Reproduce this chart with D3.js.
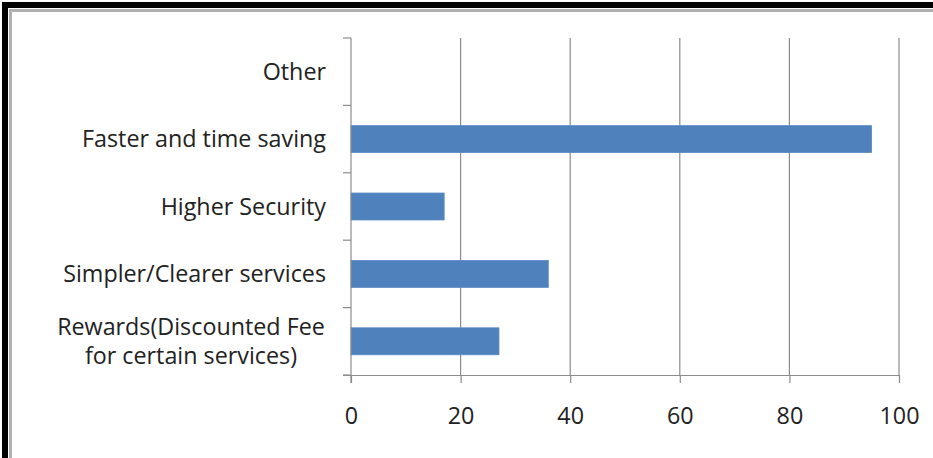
<!DOCTYPE html>
<html><head><meta charset="utf-8">
<script src="https://cdn.jsdelivr.net/npm/d3@7"></script>
<style>body{margin:0;background:#fff}svg{display:block}</style>
</head><body>
<script>
const categories = ["Rewards(Discounted Fee\nfor certain services)", "Simpler/Clearer services", "Higher Security", "Faster and time saving", "Other"];
const values = [27, 36, 17, 95, 0];
const xTicks = [0, 20, 40, 60, 80, 100];

(function () {
const W = 933, H = 458;
const svg = d3.select("body").append("svg").attr("width", W).attr("height", H);
svg.append("rect").attr("width", W).attr("height", H).attr("fill", "#fff");

// frame
svg.append("rect").attr("x", 2).attr("y", 2).attr("width", 6).attr("height", H).attr("fill", "#000");
svg.append("rect").attr("x", 2).attr("y", 2).attr("width", W).attr("height", 6).attr("fill", "#000");
svg.append("rect").attr("x", 9).attr("y", 9).attr("width", 3).attr("height", H).attr("fill", "#b0b0b0");
svg.append("rect").attr("x", 9).attr("y", 9).attr("width", W).attr("height", 3).attr("fill", "#b0b0b0");

const pl = 351, pr = 899, pt = 38, pb = 375;
const x = d3.scaleLinear().domain([0, 100]).range([pl, pr]);
const y = d3.scaleBand().domain(categories.slice().reverse()).range([pt, pb]);
const grid = "#8c8c8c";
const font = "'Open Sans', sans-serif";
const fs = "23.3px";

// gridlines
svg.append("g").selectAll("line").data(xTicks.slice(1)).join("line")
  .attr("x1", d => x(d)).attr("x2", d => x(d)).attr("y1", pt).attr("y2", pb)
  .attr("stroke", grid).attr("stroke-width", 1.2);

// bars
const bh = y.bandwidth() / 2.5;
svg.append("g").selectAll("rect").data(categories.map((c, i) => ({c, v: values[i]})).filter(d => d.v > 0)).join("rect")
  .attr("x", x(0)).attr("y", d => y(d.c) + y.bandwidth() / 2 - bh / 2)
  .attr("width", d => x(d.v) - x(0)).attr("height", bh)
  .attr("fill", "#4f81bd").attr("stroke", "#5a8ac4").attr("stroke-width", 0.8);

// x axis
const xAxis = svg.append("g").attr("transform", `translate(0,${pb})`)
  .call(d3.axisBottom(x).tickValues(xTicks).tickSize(8).tickPadding(24));
xAxis.select(".domain").attr("stroke", grid).attr("stroke-width", 1.2).attr("d", `M${pl - 8},0.5H${pr}`);
xAxis.selectAll(".tick line").attr("stroke", grid).attr("stroke-width", 1.2);
xAxis.selectAll(".tick text").attr("fill", "#222").style("font-family", font).style("font-size", fs);

// y axis
const yTicksPos = d3.range(categories.length + 1).map(i => pt + i * y.step());
svg.append("line").attr("x1", pl).attr("x2", pl).attr("y1", pt).attr("y2", pb + 8)
  .attr("stroke", grid).attr("stroke-width", 1.2);
svg.append("g").selectAll("line").data(yTicksPos).join("line")
  .attr("x1", pl - 8).attr("x2", pl).attr("y1", d => d).attr("y2", d => d)
  .attr("stroke", grid).attr("stroke-width", 1.2);

// y labels
const lab = svg.append("g").style("font-family", font).style("font-size", fs).attr("fill", "#222");
categories.forEach(c => {
  const lines = c.split("\n");
  const cy = y(c) + y.bandwidth() / 2;
  if (lines.length === 1) {
    lab.append("text").attr("x", 326).attr("y", cy).attr("dy", "0.35em").attr("text-anchor", "end").text(c);
  } else {
    const t = lab.append("text").attr("text-anchor", "middle");
    lines.forEach((l, i) => t.append("tspan").attr("x", 191).attr("y", cy + (i - (lines.length - 1) / 2) * 29).attr("dy", "0.35em").text(l));
  }
});
})();
</script>
</body></html>
